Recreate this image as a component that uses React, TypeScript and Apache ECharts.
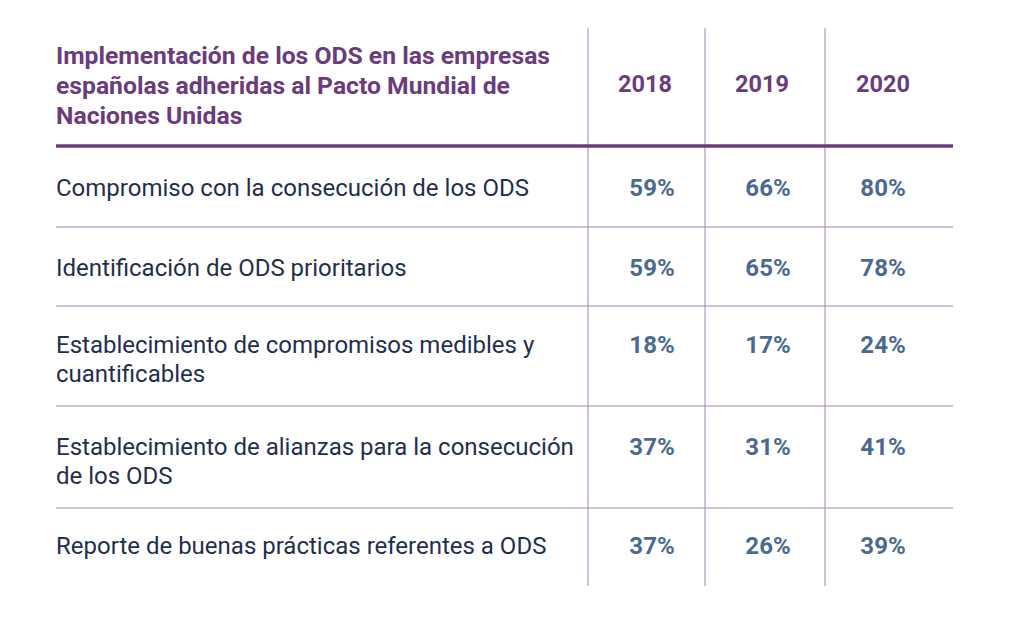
import React, { useEffect, useRef } from "react";
import * as echarts from "echarts";

const titleLines = [
  "Implementación de los ODS en las empresas",
  "españolas adheridas al Pacto Mundial de",
  "Naciones Unidas",
];
const years = ["2018", "2019", "2020"];
const rowLabels = [
  ["Compromiso con la consecución de los ODS"],
  ["Identificación de ODS prioritarios"],
  ["Establecimiento de compromisos medibles y", "cuantificables"],
  ["Establecimiento de alianzas para la consecución", "de los ODS"],
  ["Reporte de buenas prácticas referentes a ODS"],
];
const values2018 = [59, 59, 18, 37, 37];
const values2019 = [66, 65, 17, 31, 26];
const values2020 = [80, 78, 24, 41, 39];

export default function App() {
  const ref = useRef<HTMLDivElement>(null);
  useEffect(() => {
    document.body.style.margin = "0";
    const chart = echarts.init(ref.current!, null, { renderer: "svg" });
    const FONT = "Roboto";
    const purple = "#6a3c7c";
    const thin = "#a485b2";
    const navy = "#1f2f4e";
    const blue = "#4b6a91";
    const leftX = 56;
    const rightX = 953;
    const colLines = [588, 705, 825];
    const yearX = [645, 762, 883];
    const valX = [652, 768, 883];
    const rowTops = [146, 227, 306, 406, 508];
    const bottom = 586;
    const textY = [188, 268, 345, 447, 546];
    const lh = 29;
    const cols = [values2018, values2019, values2020];
    const els: any[] = [];
    titleLines.forEach((t, i) => {
      els.push({
        type: "text",
        x: leftX,
        y: 55 + i * 30,
        style: { text: t, font: `bold 24.7px ${FONT}`, fill: purple, align: "left", verticalAlign: "middle" },
      });
    });
    years.forEach((yr, i) => {
      els.push({
        type: "text",
        x: yearX[i],
        y: 84,
        style: { text: yr, font: `bold 23.5px ${FONT}`, fill: purple, align: "center", verticalAlign: "middle" },
      });
    });
    colLines.forEach((x) => {
      els.push({ type: "line", shape: { x1: x, y1: 28, x2: x, y2: bottom }, style: { stroke: thin, lineWidth: 1 } });
    });
    rowTops.forEach((y, i) => {
      els.push({
        type: "line",
        shape: { x1: leftX, y1: y, x2: rightX, y2: y },
        style: { stroke: i === 0 ? purple : thin, lineWidth: i === 0 ? 3.5 : 1 },
      });
    });
    rowLabels.forEach((lines, r) => {
      lines.forEach((t, k) => {
        els.push({
          type: "text",
          x: leftX,
          y: textY[r] + k * lh,
          style: { text: t, font: `24px ${FONT}`, fill: navy, align: "left", verticalAlign: "middle" },
        });
      });
      cols.forEach((arr, c) => {
        els.push({
          type: "text",
          x: valX[c],
          y: textY[r],
          style: { text: `${arr[r]}%`, font: `bold 24px ${FONT}`, fill: blue, align: "center", verticalAlign: "middle" },
        });
      });
    });
    chart.setOption({ animation: false, backgroundColor: "#ffffff", graphic: { elements: els } });
    return () => chart.dispose();
  }, []);
  return <div ref={ref} style={{ width: 1024, height: 628 }} />;
}
